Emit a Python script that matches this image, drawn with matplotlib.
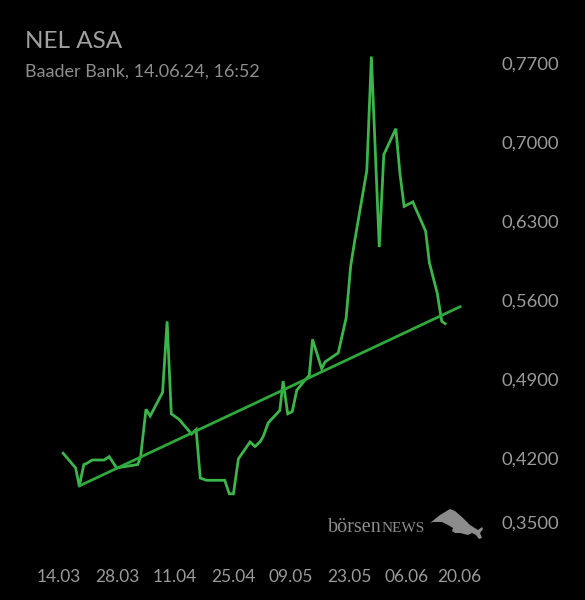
import matplotlib
matplotlib.use("Agg")
import matplotlib.pyplot as plt
import matplotlib.transforms as mtransforms
from matplotlib.patches import Polygon

# jours depuis le 14.03 et cours (EUR)
jours = [1.0, 4.0, 4.9, 6.0, 6.7, 8.0, 10.9, 12.1, 13.9, 19.0, 19.7, 21.0, 22.0,
         25.0, 26.1, 27.1, 29.0, 32.0, 33.1, 34.1, 35.6, 40.0, 41.1, 42.1, 43.3,
         46.1, 47.3, 48.5, 49.3, 50.5, 53.3, 54.1, 55.2, 56.3, 57.4, 59.4, 60.4,
         61.2, 63.4, 64.2, 67.4, 69.3, 70.4, 71.4, 74.3, 75.4, 77.3, 78.4, 81.3,
         82.3, 83.3, 85.4, 88.5, 89.4, 91.3, 92.2, 92.4, 93.2]
cours = [0.424, 0.411, 0.395, 0.414, 0.415, 0.418, 0.418, 0.421, 0.411, 0.414,
         0.421, 0.463, 0.457, 0.478, 0.541, 0.459, 0.454, 0.441, 0.445, 0.402,
         0.400, 0.400, 0.388, 0.388, 0.419, 0.434, 0.430, 0.434, 0.439, 0.451,
         0.462, 0.488, 0.459, 0.461, 0.480, 0.489, 0.493, 0.525, 0.499, 0.505,
         0.513, 0.544, 0.590, 0.613, 0.675, 0.776, 0.607, 0.689, 0.712, 0.672,
         0.643, 0.647, 0.621, 0.593, 0.566, 0.545, 0.541, 0.539]

# ligne de tendance
tendance_x = [4.9, 96.8]
tendance_y = [0.395, 0.554]

ticks_x = [0, 14, 28, 42, 56, 70, 84, 98]
labels_x = ["14.03", "28.03", "11.04", "25.04", "09.05", "23.05", "06.06", "20.06"]
ticks_y = [0.35, 0.42, 0.49, 0.56, 0.63, 0.70, 0.77]
labels_y = ["0,3500", "0,4200", "0,4900", "0,5600", "0,6300", "0,7000", "0,7700"]

W, H = 585, 600
fig = plt.figure(figsize=(W / 100, H / 100), dpi=100, facecolor="black")

# axes en pixels
L, R, T, B = 40, 490, 40, 545
ax = fig.add_axes([L / W, 1 - B / H, (R - L) / W, (B - T) / H], facecolor="black")
px_jour = 4.143
ax.set_xlim((L - 59) / px_jour, (R - 59) / px_jour)
ax.set_ylim(0.77 - (B - 63.3) / 1127, 0.77 + (63.3 - T) / 1127)

ax.plot(jours, cours, color="#3cb54a", lw=2, solid_joinstyle="miter")
ax.plot(tendance_x, tendance_y, color="#2fa83c", lw=2)

for s in ax.spines.values():
    s.set_visible(False)

gris = "#9a9a9a"
ax.set_xticks(ticks_x)
ax.set_xticklabels(labels_x)
ax.yaxis.tick_right()
ax.set_yticks(ticks_y)
ax.set_yticklabels(labels_y)
ax.tick_params(axis="x", length=0, pad=17, labelsize=12.5, labelcolor=gris)
ax.tick_params(axis="y", length=0, pad=8, labelsize=13.3, labelcolor=gris)
for lab in ax.get_xticklabels() + ax.get_yticklabels():
    lab.set_family(["Lato", "DejaVu Sans"])
# le dernier label y remonte un peu, le dernier label x se colle au précédent
lab0 = ax.get_yticklabels()[0]
lab0.set_transform(lab0.get_transform() +
                   mtransforms.ScaledTranslation(0, 15 / 100, fig.dpi_scale_trans))
labx = ax.get_xticklabels()[-1]
labx.set_transform(labx.get_transform() +
                   mtransforms.ScaledTranslation(-6 / 100, 0, fig.dpi_scale_trans))

fig.text(25 / W, 1 - 42 / H, "NEL ASA", color="#a0a0a0", fontsize=17.5, family="Lato",
         va="center", ha="left")
fig.text(25 / W, 1 - 72 / H, "Baader Bank, 14.06.24, 16:52", color="#8e8e8e",
         fontsize=13, family="Lato", va="center", ha="left")

# logo börsenNEWS
logo = "#8c8c8c"
fig.text(328 / W, 1 - 527 / H, "börsen", color=logo, fontsize=14.5,
         family="Liberation Serif", va="center", ha="left")
fig.text(382 / W, 1 - 528 / H, "NEWS", color=logo, fontsize=11,
         family="Liberation Serif", va="center", ha="left")
taureau = [(430, 523), (440, 515), (450, 509), (455, 511), (463, 518), (470, 525),
           (478, 530), (482, 527), (483, 529), (480, 533), (482, 538), (479, 539),
           (476, 535), (472, 533), (468, 535), (460, 533), (455, 533), (452, 531),
           (453, 528), (448, 525), (442, 522), (433, 522)]
fig.patches.append(Polygon([(x / W, 1 - y / H) for x, y in taureau], closed=True,
                           transform=fig.transFigure, facecolor=logo, edgecolor="none"))

plt.savefig("out.png", dpi=100, facecolor="black")
plt.close()
